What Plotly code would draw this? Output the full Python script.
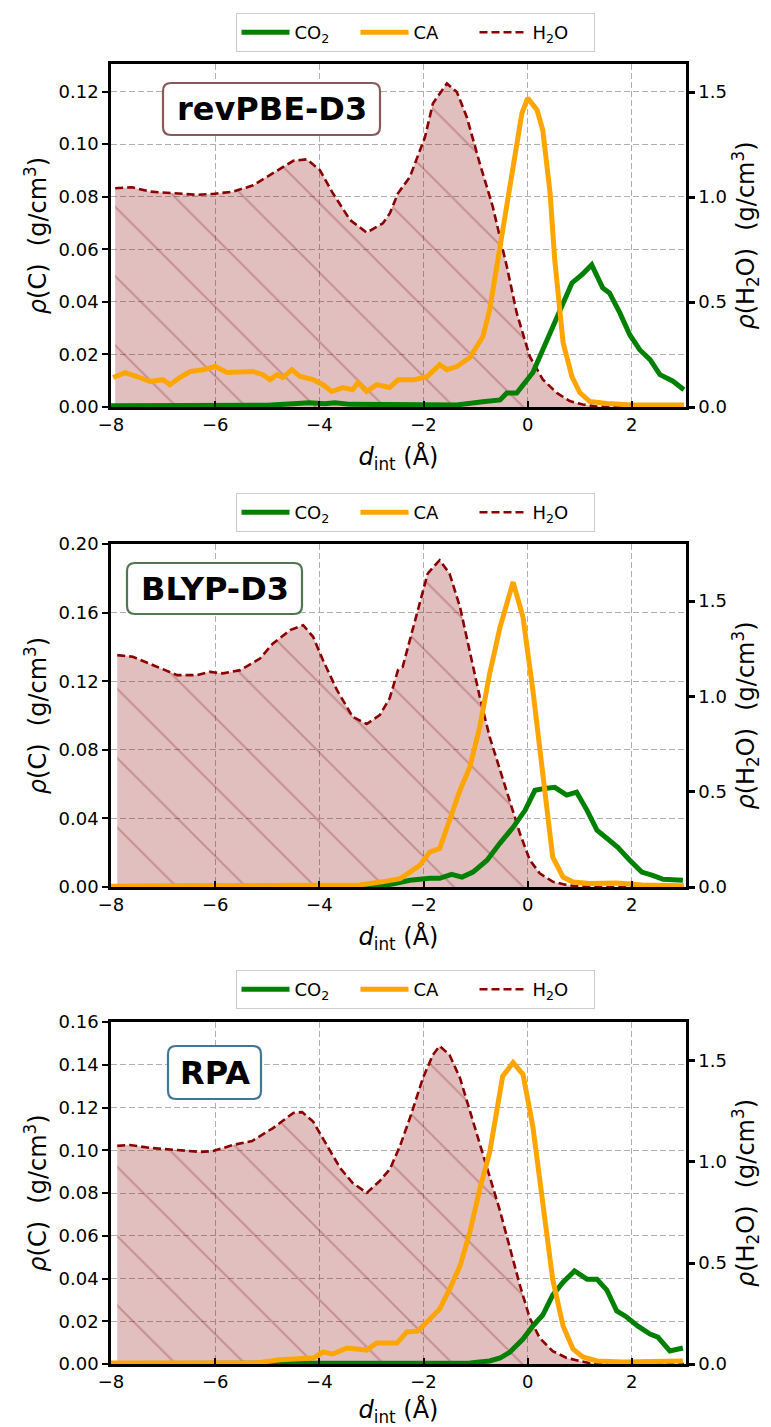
import plotly.graph_objects as go

W, H = 771, 1427

# ---------------- data ----------------
# Panel 1 : revPBE-D3
x_co2_1 = [-8.0, -6.0, -5.0, -4.5, -4.2, -3.9, -3.7, -3.4, -3.0, -2.65, -2.0, -1.36, -0.86, -0.53, -0.4, -0.21,
           0.1, 0.29, 0.48, 0.68, 0.85, 1.04, 1.23, 1.44, 1.57, 1.77, 1.96, 2.15, 2.35, 2.54, 2.79, 3.0]
co2_1 = [0.0005, 0.0005, 0.0007, 0.0012, 0.0016, 0.0012, 0.0016, 0.001, 0.0009, 0.0008, 0.0008, 0.0008, 0.002,
         0.0027, 0.0053, 0.0053, 0.0131, 0.0218, 0.0307, 0.0396, 0.0472, 0.0503, 0.0541, 0.0453, 0.0434, 0.0358,
         0.0275, 0.0218, 0.018, 0.0123, 0.0098, 0.0066]
x_ca_1 = [-7.96, -7.73, -7.5, -7.25, -7.0, -6.87, -6.68, -6.48, -6.23, -6.0, -5.77, -5.52, -5.27, -5.08, -4.95,
          -4.81, -4.7, -4.53, -4.37, -4.12, -3.93, -3.76, -3.55, -3.36, -3.26, -3.09, -2.9, -2.65, -2.49, -2.4,
          -2.17, -1.93, -1.69, -1.55, -1.36, -1.11, -0.86, -0.73, -0.59, -0.48, -0.34, -0.21, -0.11, 0.0, 0.18,
          0.29, 0.43, 0.52, 0.68, 0.85, 1.0, 1.19, 1.52, 2.0, 2.5, 3.0]
ca_1 = [0.0112, 0.0131, 0.0116, 0.0097, 0.0104, 0.0085, 0.0112, 0.0135, 0.0142, 0.0154, 0.0131, 0.0135, 0.0135,
        0.0123, 0.0104, 0.0123, 0.0112, 0.0142, 0.0116, 0.0104, 0.0085, 0.0059, 0.0074, 0.0066, 0.0093, 0.0059,
        0.0085, 0.0074, 0.0104, 0.0104, 0.0104, 0.0116, 0.0161, 0.0142, 0.0154, 0.0188, 0.0268, 0.037, 0.0534,
        0.0686, 0.0837, 0.1005, 0.1118, 0.1175, 0.113, 0.1054, 0.0815, 0.056, 0.0245, 0.0116, 0.0055, 0.0021,
        0.0013, 0.0008, 0.0008, 0.0008]
x_h2o_1 = [-7.92, -7.6, -7.25, -6.68, -6.35, -6.04, -5.66, -5.27, -4.89, -4.5, -4.24, -3.99, -3.74, -3.41, -3.09,
           -2.78, -2.645, -2.49, -2.26, -1.97, -1.82, -1.55, -1.36, -1.17, -0.92, -0.67, -0.4, -0.21, 0.04, 0.29,
           0.56, 0.81, 1.06, 1.3, 1.6, 3.0]
h2o_1 = [1.042, 1.047, 1.026, 1.015, 1.011, 1.015, 1.026, 1.056, 1.113, 1.173, 1.18, 1.129, 1.018, 0.891, 0.831,
         0.875, 0.923, 1.018, 1.097, 1.287, 1.446, 1.541, 1.501, 1.382, 1.161, 0.954, 0.669, 0.448, 0.241, 0.131,
         0.067, 0.028, 0.012, 0.003, 0.0, 0.0]

# Panel 2 : BLYP-D3
x_co2_2 = [-8.0, -4.0, -3.0, -2.645, -2.26, -1.88, -1.69, -1.46, -1.26, -1.05, -0.78, -0.53, -0.28, -0.05, 0.14,
           0.33, 0.52, 0.75, 0.94, 1.14, 1.33, 1.52, 1.73, 1.96, 2.19, 2.4, 2.6, 2.98]
co2_2 = [0.0003, 0.0003, 0.0005, 0.0015, 0.0039, 0.0051, 0.0051, 0.0074, 0.0058, 0.0087, 0.0156, 0.0256, 0.0348,
         0.0447, 0.0564, 0.0575, 0.0581, 0.0536, 0.0553, 0.0447, 0.0331, 0.0284, 0.0231, 0.0156, 0.0087, 0.0068,
         0.0045, 0.0039]
x_ca_2 = [-8.0, -5.0, -4.0, -3.5, -3.22, -2.8, -2.645, -2.45, -2.26, -2.07, -1.88, -1.69, -1.5, -1.3, -1.11, -0.92,
          -0.73, -0.53, -0.28, -0.09, 0.1, 0.29, 0.48, 0.68, 0.87, 1.19, 1.71, 2.2, 3.0]
ca_2 = [0.0005, 0.0005, 0.0006, 0.0008, 0.0012, 0.003, 0.0039, 0.0049, 0.0087, 0.0127, 0.0204, 0.0224, 0.0389,
        0.0564, 0.07, 0.0933, 0.1244, 0.1516, 0.1778, 0.1574, 0.1147, 0.0661, 0.0175, 0.0058, 0.0029, 0.002,
        0.0023, 0.0012, 0.0008]
x_h2o_2 = [-7.88, -7.58, -7.19, -6.73, -6.35, -6.1, -5.85, -5.52, -5.14, -4.89, -4.56, -4.31, -4.12, -3.93, -3.66,
           -3.36, -3.09, -2.84, -2.65, -2.49, -2.4, -2.13, -1.92, -1.69, -1.5, -1.3, -1.11, -0.92, -0.73, -0.53,
           -0.34, -0.15, 0.04, 0.23, 0.48, 0.75, 1.0, 1.3, 3.0]
h2o_2 = [1.217, 1.208, 1.164, 1.112, 1.112, 1.129, 1.121, 1.138, 1.199, 1.278, 1.348, 1.374, 1.313, 1.19, 1.033,
         0.893, 0.855, 0.902, 0.99, 1.138, 1.155, 1.435, 1.645, 1.715, 1.645, 1.47, 1.225, 0.998, 0.788, 0.614,
         0.439, 0.282, 0.142, 0.072, 0.028, 0.01, 0.003, 0.0, 0.0]

# Panel 3 : RPA
x_co2_3 = [-8.0, -4.0, -2.645, -1.11, -0.73, -0.53, -0.34, -0.09, 0.1, 0.29, 0.48, 0.68, 0.9, 1.14, 1.33, 1.52,
           1.71, 1.9, 2.11, 2.35, 2.5, 2.73, 2.98]
co2_3 = [0.0002, 0.0002, 0.0003, 0.0005, 0.0014, 0.0028, 0.0056, 0.0117, 0.0178, 0.0229, 0.0322, 0.0383, 0.0435,
         0.0397, 0.0397, 0.0346, 0.0248, 0.022, 0.0178, 0.014, 0.0126, 0.0061, 0.0075]
x_ca_3 = [-8.0, -5.2, -4.76, -4.12, -3.93, -3.74, -3.47, -3.09, -2.9, -2.65, -2.51, -2.32, -2.11, -1.92, -1.69,
          -1.5, -1.3, -1.11, -0.92, -0.73, -0.59, -0.48, -0.28, -0.09, 0.1, 0.29, 0.48, 0.68, 0.87, 1.06, 1.33,
          1.83, 2.98]
ca_3 = [0.0005, 0.0005, 0.002, 0.0028, 0.0056, 0.0047, 0.0075, 0.0065, 0.0098, 0.0098, 0.0098, 0.015, 0.0154,
        0.02, 0.0257, 0.035, 0.0458, 0.0617, 0.0818, 0.099, 0.1206, 0.1346, 0.141, 0.1355, 0.111, 0.0738, 0.0397,
        0.0178, 0.007, 0.0033, 0.0014, 0.0009, 0.0014]
x_h2o_3 = [-7.88, -7.64, -7.25, -6.73, -6.29, -6.04, -5.66, -5.29, -4.89, -4.5, -4.33, -4.12, -3.85, -3.6, -3.36,
           -3.09, -2.84, -2.645, -2.45, -2.26, -2.01, -1.82, -1.69, -1.5, -1.3, -1.11, -0.92, -0.73, -0.53, -0.34,
           -0.15, 0.04, 0.23, 0.48, 0.75, 1.0, 1.2, 1.5, 3.0]
h2o_3 = [1.08, 1.084, 1.07, 1.06, 1.05, 1.054, 1.084, 1.104, 1.168, 1.243, 1.247, 1.2, 1.084, 0.97, 0.896, 0.847,
         0.906, 0.965, 1.08, 1.218, 1.416, 1.53, 1.574, 1.53, 1.416, 1.252, 1.084, 0.92, 0.757, 0.574, 0.39, 0.228,
         0.129, 0.064, 0.03, 0.015, 0.004, 0.0, 0.0]

panel_names = ["revPBE-D3", "BLYP-D3", "RPA"]
c_ranges = [[0, 0.1305], [0, 0.2], [0, 0.16]]
c_ticks = [[0, 0.02, 0.04, 0.06, 0.08, 0.10, 0.12],
           [0, 0.04, 0.08, 0.12, 0.16, 0.20],
           [0, 0.02, 0.04, 0.06, 0.08, 0.10, 0.12, 0.14, 0.16]]
h_ranges = [[0, 1.634], [0, 1.8], [0, 1.693]]
h_ticks = [0, 0.5, 1.0, 1.5]
x_ticks = [-8, -6, -4, -2, 0, 2]
x_range = [-8, 3.04]

series = [
    (x_co2_1, co2_1, x_ca_1, ca_1, x_h2o_1, h2o_1),
    (x_co2_2, co2_2, x_ca_2, ca_2, x_h2o_2, h2o_2),
    (x_co2_3, co2_3, x_ca_3, ca_3, x_h2o_3, h2o_3),
]

# ---------------- layout geometry (pixels) ----------------
FONT = "DejaVu Sans"
x_px = (111, 686)
panels_px = [(64, 407), (544, 887), (1022, 1364)]
legend_top_px = [13, 493, 970]
boxes_px = [(163, 83, 380, 135), (127, 563, 302, 614), (168, 1046, 261, 1099)]
box_colors = ["#8a5a5a", "#4f7752", "#3f7893"]

GREEN = "#008000"
ORANGE = "#FFA500"
DRED = "#8B0000"
GRID = "#b0b0b0"


def px2x(p):
    return p / W


def px2y(p):
    return 1 - p / H


def rounded_path(x0, y0, x1, y1, r):
    def P(x, y):
        return f"{px2x(x):.5f},{px2y(y):.5f}"
    return (f"M {P(x0 + r, y0)} L {P(x1 - r, y0)} Q {P(x1, y0)} {P(x1, y0 + r)} "
            f"L {P(x1, y1 - r)} Q {P(x1, y1)} {P(x1 - r, y1)} "
            f"L {P(x0 + r, y1)} Q {P(x0, y1)} {P(x0, y1 - r)} "
            f"L {P(x0, y0 + r)} Q {P(x0, y0)} {P(x0 + r, y0)} Z")


fig = go.Figure()
layout = dict(
    width=W, height=H, margin=dict(l=0, r=0, t=0, b=0, autoexpand=False),
    paper_bgcolor="white", plot_bgcolor="white",
    font=dict(family=FONT, size=18, color="black"),
    shapes=[], annotations=[],
)

SP = "\u2009\u2009"
for i in range(3):
    xs = "x" if i == 0 else f"x{i + 1}"
    yb = "y" if i == 0 else f"y{2 * i + 1}"       # H2O (base, right)
    yo = f"y{2 * i + 2}"                          # C (overlay, left)
    leg = "legend" if i == 0 else f"legend{i + 1}"
    xc, yc, xa, ya, xh, yh = series[i]

    # H2O fill (hatched)
    fig.add_trace(go.Scatter(
        x=xh, y=yh, xaxis=xs, yaxis=yb, mode="lines", line=dict(width=0, color=DRED),
        fill="tozeroy", fillcolor="rgba(139,0,0,0.25)",
        fillpattern=dict(shape="\\", fgcolor="rgba(110,0,0,0.5)", bgcolor="rgba(139,0,0,0.25)",
                         size=49, solidity=0.04),
        showlegend=False, hoverinfo="skip", legend=leg))
    fig.add_trace(go.Scatter(
        x=xc, y=yc, xaxis=xs, yaxis=yo, mode="lines", name="CO<sub>2</sub>",
        line=dict(color=GREEN, width=5), legend=leg))
    fig.add_trace(go.Scatter(
        x=xa, y=ya, xaxis=xs, yaxis=yo, mode="lines", name="CA",
        line=dict(color=ORANGE, width=5), legend=leg))
    fig.add_trace(go.Scatter(
        x=xh, y=yh, xaxis=xs, yaxis=yb, mode="lines", name="H<sub>2</sub>O",
        line=dict(color=DRED, width=2.6, dash="8px,4px"), legend=leg))

    top, bot = panels_px[i]
    ydom = [px2y(bot), px2y(top)]
    xkey = "xaxis" if i == 0 else f"xaxis{i + 1}"
    ybkey = "yaxis" if i == 0 else f"yaxis{2 * i + 1}"
    yokey = f"yaxis{2 * i + 2}"

    layout[xkey] = dict(
        domain=[px2x(x_px[0]), px2x(x_px[1])], anchor=yb, range=x_range,
        tickvals=x_ticks, ticks="inside", ticklen=6, tickwidth=2, tickcolor="black",
        showline=True, linecolor="black", linewidth=2.5, mirror=True,
        showgrid=True, gridcolor=GRID, griddash="6px,3px", gridwidth=1, zeroline=False,
        tickfont=dict(size=18),
        title=dict(text="<i>d</i><sub>int</sub> (Å)", font=dict(size=24), standoff=14),
    )
    layout[ybkey] = dict(
        domain=ydom, anchor=xs, side="right", range=h_ranges[i],
        tickvals=h_ticks, tickformat=".1f", ticks="outside", ticklen=6, tickwidth=2.5,
        tickcolor="black", showline=True, linecolor="black", linewidth=2.5,
        showgrid=False, zeroline=False, tickfont=dict(size=18),
        title=dict(text=f"<i>ρ</i>(H<sub>2</sub>O){SP} (g/cm<sup>3</sup>)", font=dict(size=24), standoff=12),
    )
    layout[yokey] = dict(
        overlaying=yb, anchor=xs, side="left", range=c_ranges[i],
        tickvals=c_ticks[i], tickformat=".2f", ticks="outside", ticklen=6, tickwidth=1.5,
        tickcolor="black", showline=True, linecolor="black", linewidth=2.5,
        showgrid=True, gridcolor=GRID, griddash="6px,3px", gridwidth=1, zeroline=False,
        tickfont=dict(size=18),
        title=dict(text=f"<i>ρ</i>(C){SP} (g/cm<sup>3</sup>)", font=dict(size=24), standoff=6),
    )
    layout[leg] = dict(
        orientation="h", x=px2x(415), xanchor="center", y=px2y(legend_top_px[i]), yanchor="top",
        bgcolor="white", bordercolor="#cccccc", borderwidth=1,
        font=dict(size=18, family=FONT), itemwidth=48, entrywidth=56, entrywidthmode="pixels",
    )

    bx0, by0, bx1, by1 = boxes_px[i]
    layout["shapes"].append(dict(
        type="path", xref="paper", yref="paper", path=rounded_path(bx0, by0, bx1, by1, 8),
        fillcolor="white", line=dict(color=box_colors[i], width=2.2), layer="above"))
    layout["annotations"].append(dict(
        xref="paper", yref="paper", x=px2x((bx0 + bx1) / 2), y=px2y((by0 + by1) / 2),
        xanchor="center", yanchor="middle", showarrow=False,
        text=f"<b>{panel_names[i]}</b>", font=dict(size=32, family=FONT, color="black")))

fig.update_layout(**layout)
fig.write_html("out.html")
